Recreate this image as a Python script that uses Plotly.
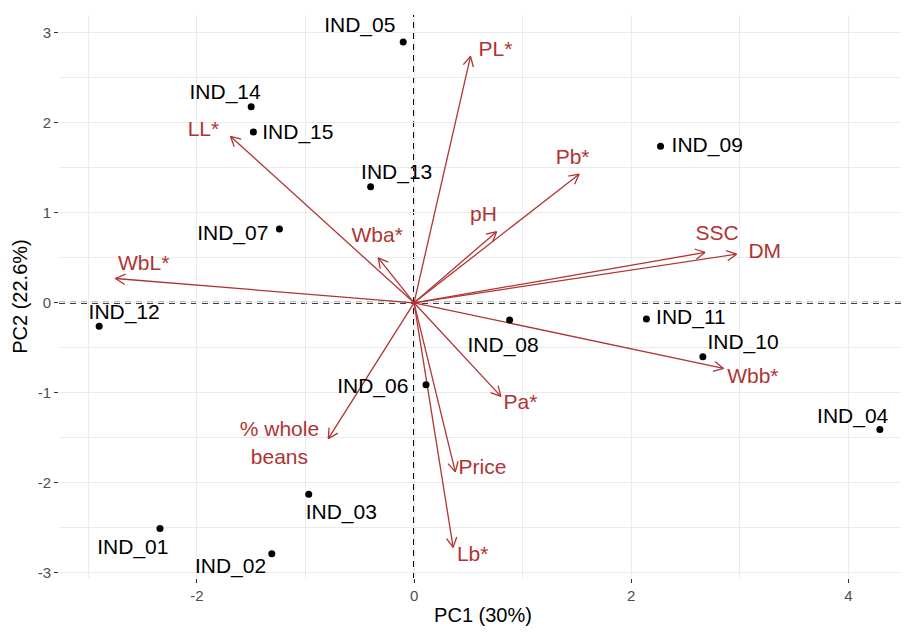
import math
import plotly.graph_objects as go

# ---- individuals (PCA scores) ----
ind_names = ["IND_01", "IND_02", "IND_03", "IND_04", "IND_05", "IND_06", "IND_07", "IND_08",
             "IND_09", "IND_10", "IND_11", "IND_12", "IND_13", "IND_14", "IND_15"]
ind_pc1 = [-2.34, -1.31, -0.97, 4.29, -0.10, 0.11, -1.24, 0.88, 2.27, 2.66, 2.14, -2.90, -0.40, -1.50, -1.48]
ind_pc2 = [-2.51, -2.79, -2.13, -1.41, 2.90, -0.91, 0.82, -0.19, 1.74, -0.60, -0.18, -0.26, 1.29, 2.18, 1.90]

# ---- variables (loadings, scaled) ----
var_names = ["PL*", "Pb*", "pH", "SSC", "DM", "LL*", "Wba*", "WbL*", "% whole<br>beans",
             "Price", "Lb*", "Pa*", "Wbb*"]
var_pc1 = [0.52, 1.52, 0.76, 2.68, 2.97, -1.69, -0.33, -2.75, -0.79, 0.38, 0.36, 0.80, 2.85]
var_pc2 = [2.74, 1.43, 0.79, 0.56, 0.54, 1.85, 0.50, 0.27, -1.51, -1.88, -2.72, -1.04, -0.73]

# ---- repelled label positions ----
ind_lab_x = [-2.59, -1.69, -0.67, 4.04, -0.50, -0.38, -1.67, 0.82, 2.70, 3.03, 2.55, -2.67, -0.16, -1.74, -1.07]
ind_lab_y = [-2.74, -2.95, -2.35, -1.28, 3.07, -0.95, 0.76, -0.49, 1.73, -0.46, -0.18, -0.12, 1.43, 2.32, 1.88]
var_lab_x = [0.75, 1.46, 0.64, 2.79, 3.23, -1.94, -0.34, -2.49, -1.24, 0.63, 0.54, 0.98, 3.12]
var_lab_y = [2.80, 1.60, 0.97, 0.76, 0.56, 1.91, 0.73, 0.42, -1.58, -1.85, -2.81, -1.12, -0.83]

# ---- axis ticks ----
x_tickvals = [-2, 0, 2, 4]
x_ticktext = ["-2", "0", "2", "4"]
y_tickvals = [-3, -2, -1, 0, 1, 2, 3]
y_ticktext = ["-3", "-2", "-1", "0", "1", "2", "3"]

x_title = "PC1 (30%)"
y_title = "PC2 (22.6%)"

XR = [-3.27, 4.54]
YR = [-3.06, 3.20]
# page body adds an 8px offset, so the figure is drawn 8px smaller
W, H = 901, 624
ML, MR, MT, MB = 51, 2, 7, 54
VAR_COL = "#B03434"
FONT = "Liberation Sans, Arial, sans-serif"

fig = go.Figure()

# zero lines
fig.add_shape(type="line", x0=0, x1=0, y0=YR[0], y1=YR[1], xref="x", yref="y",
              line=dict(color="black", width=2, dash="6px,5px"), layer="below")
fig.add_shape(type="line", x0=XR[0], x1=XR[1], y0=0, y1=0, xref="x", yref="y",
              line=dict(color="black", width=2, dash="6px,5px"), layer="below")

# arrows with open V heads
sx = (W - ML - MR) / (XR[1] - XR[0])
sy = (H - MT - MB) / (YR[1] - YR[0])
L = 11
ax_, ay_ = [], []
for x, y in zip(var_pc1, var_pc2):
    ax_ += [0, x, None]
    ay_ += [0, y, None]
    th = math.atan2(y * sy, x * sx)
    for s in (1, -1):
        phi = th + math.pi + s * math.radians(28)
        ax_ += [x, x + L * math.cos(phi) / sx, None]
        ay_ += [y, y + L * math.sin(phi) / sy, None]
fig.add_trace(go.Scatter(x=ax_, y=ay_, mode="lines", line=dict(color=VAR_COL, width=1.3),
                         hoverinfo="skip", showlegend=False))

# individuals
fig.add_trace(go.Scatter(x=ind_pc1, y=ind_pc2, mode="markers",
                         marker=dict(color="black", size=7), text=ind_names,
                         showlegend=False))
fig.add_trace(go.Scatter(x=ind_lab_x, y=ind_lab_y, mode="text", text=ind_names,
                         textfont=dict(color="black", size=21, family=FONT),
                         hoverinfo="skip", showlegend=False))
fig.add_trace(go.Scatter(x=var_lab_x, y=var_lab_y, mode="text", text=var_names,
                         textfont=dict(color=VAR_COL, size=21, family=FONT),
                         hoverinfo="skip", showlegend=False))

axis_common = dict(showline=False, zeroline=False, gridcolor="#EBEBEB", gridwidth=1.2,
                   ticks="outside", ticklen=4, tickcolor="#333333", tickwidth=1,
                   tickfont=dict(size=15, color="#4D4D4D", family=FONT))
fig.update_xaxes(range=XR, tickmode="array", tickvals=x_tickvals, ticktext=x_ticktext,
                 minor=dict(dtick=1, tick0=0, showgrid=True, gridcolor="#EBEBEB", gridwidth=0.8, ticks=""),
                 title=dict(text=x_title, font=dict(size=20, color="black", family=FONT), standoff=4),
                 **axis_common)
fig.update_yaxes(range=YR, tickmode="array", tickvals=y_tickvals, ticktext=y_ticktext,
                 minor=dict(dtick=0.5, tick0=0, showgrid=True, gridcolor="#EBEBEB", gridwidth=0.8, ticks=""),
                 title=dict(text=y_title, font=dict(size=20, color="black", family=FONT), standoff=4),
                 **axis_common)
fig.update_layout(width=W, height=H, margin=dict(l=ML, r=MR, t=MT, b=MB, autoexpand=False),
                  plot_bgcolor="white", paper_bgcolor="white", font=dict(family=FONT))

fig.write_html("out.html")
